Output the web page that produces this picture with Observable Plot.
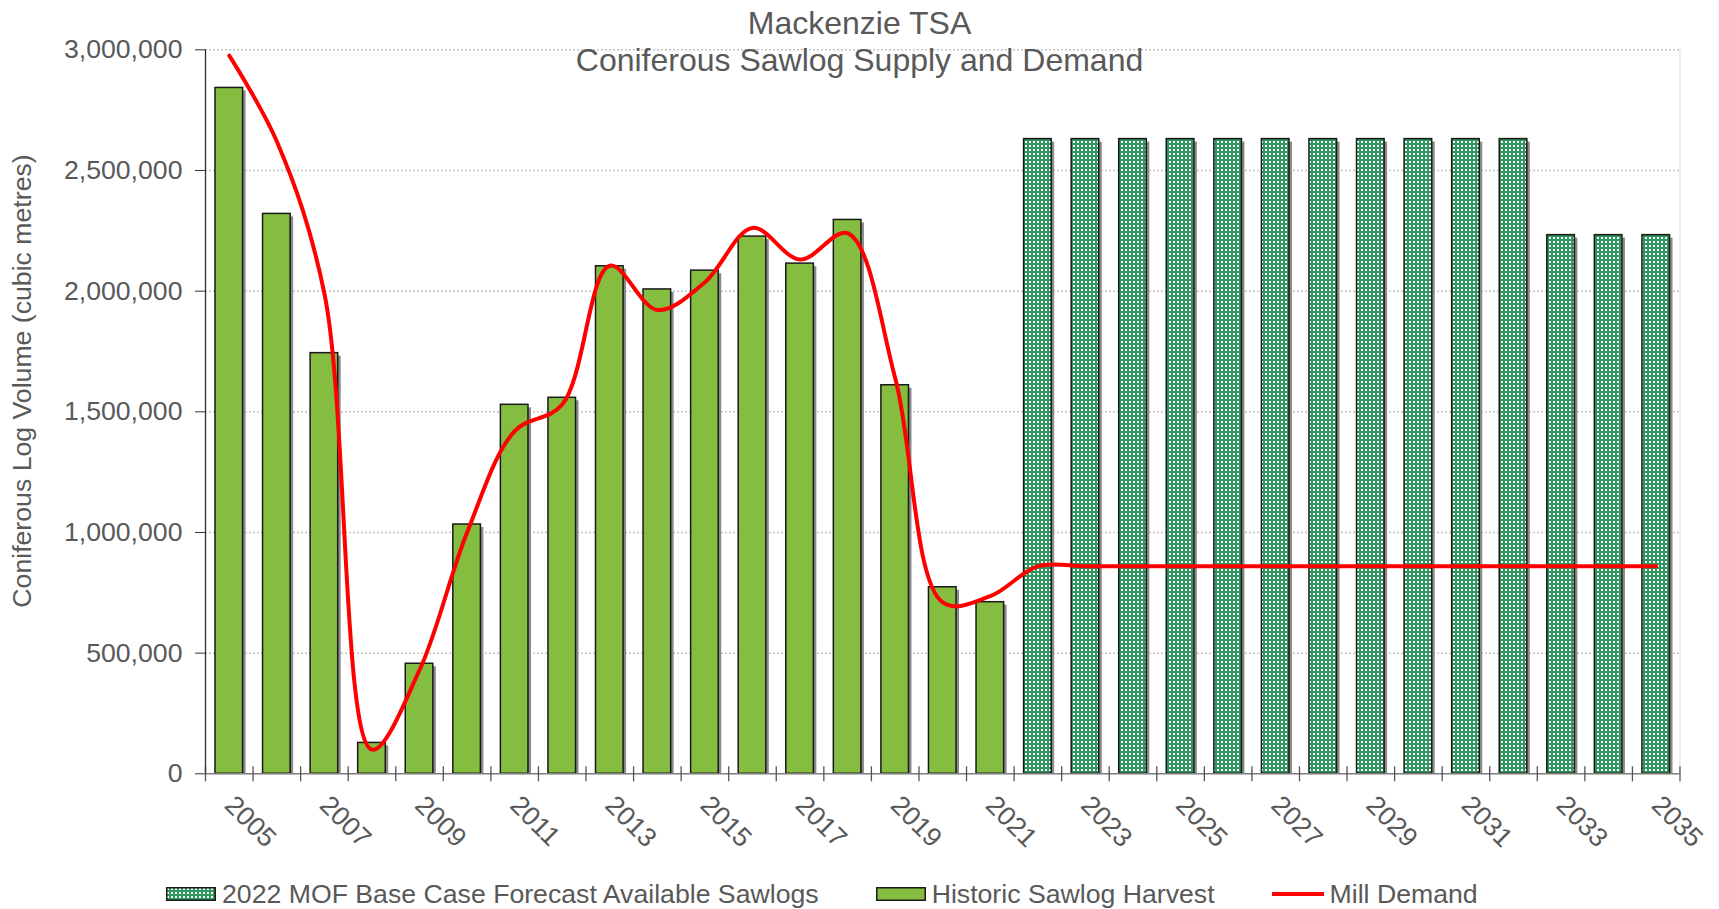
<!DOCTYPE html>
<html>
<head>
<meta charset="utf-8">
<script src="https://cdn.jsdelivr.net/npm/d3@7"></script>
<script src="https://cdn.jsdelivr.net/npm/@observablehq/plot@0.6"></script>
<style>
  body { margin: 0; background: #fff; font-family: "Liberation Sans", Arial, sans-serif; color: #595959; }
  #wrap { position: relative; width: 1719px; height: 909px; overflow: hidden; }
  #chart svg { display: block; }
  #title { position: absolute; left: 0; top: 5px; width: 1719px; text-align: center; font-size: 32px; line-height: 37px; }
  #ylabel { position: absolute; left: 22px; top: 381px; transform: translate(-50%, -50%) rotate(-90deg); font-size: 26.67px; white-space: nowrap; }
  #legend { position: absolute; left: 166px; top: 879px; display: flex; align-items: center; font-size: 26.67px; line-height: 30px; white-space: nowrap; }
  .item { display: flex; align-items: center; margin-right: 57px; }
  .item svg { margin-right: 6px; display: block; }
</style>
</head>
<body>
<svg width="0" height="0" style="position:absolute">
  <defs>
    <pattern id="dots" width="4" height="4" patternUnits="userSpaceOnUse">
      <rect width="4" height="4" fill="#30975f"></rect>
      <rect x="1" y="1" width="2" height="2" fill="#ffffff"></rect>
    </pattern>
  </defs>
</svg>
<div id="wrap">
  <div id="chart"></div>
  <div id="title">Mackenzie TSA<br>Coniferous Sawlog Supply and Demand</div>
  <div id="ylabel">Coniferous Log Volume (cubic metres)</div>
  <div id="legend">
    <div class="item"><svg width="50" height="14"><rect x="0.75" y="0.75" width="48.5" height="12.5" fill="url(#dots)" stroke="#1a1a1a" stroke-width="1.5"></rect></svg><span>2022 MOF Base Case Forecast Available Sawlogs</span></div>
    <div class="item"><svg width="50" height="14"><rect x="0.75" y="0.75" width="48.5" height="12.5" fill="#85bd41" stroke="#1a1a1a" stroke-width="1.5"></rect></svg><span>Historic Sawlog Harvest</span></div>
    <div class="item"><svg width="52" height="14"><line x1="0" x2="52" y1="7" y2="7" stroke="#ff0000" stroke-width="4"></line></svg><span>Mill Demand</span></div>
  </div>
</div>
<script>
const historicYears = [2005, 2006, 2007, 2008, 2009, 2010, 2011, 2012, 2013, 2014, 2015, 2016, 2017, 2018, 2019, 2020, 2021];
const historicHarvest = [2842000, 2320000, 1743000, 128000, 456000, 1033000, 1529000, 1558000, 2103000, 2007000, 2085000, 2226000, 2114000, 2295000, 1610000, 773000, 711000];

const forecastYears = [2022, 2023, 2024, 2025, 2026, 2027, 2028, 2029, 2030, 2031, 2032, 2033, 2034, 2035];
const forecastSupply = [2630000, 2630000, 2630000, 2630000, 2630000, 2630000, 2630000, 2630000, 2630000, 2630000, 2630000, 2232000, 2232000, 2232000];

const demandYears = [2005, 2006, 2007, 2008, 2009, 2010, 2011, 2012, 2013, 2014, 2015, 2016, 2017, 2018, 2019, 2020, 2021, 2022, 2023, 2024, 2025, 2026, 2027, 2028, 2029, 2030, 2031, 2032, 2033, 2034, 2035];
const millDemand = [2976000, 2620000, 1990000, 100000, 430000, 1000000, 1420000, 1530000, 2105000, 1922000, 2037000, 2262000, 2131000, 2240000, 1640000, 710000, 736000, 860000, 860000, 860000, 860000, 860000, 860000, 860000, 860000, 860000, 860000, 860000, 860000, 860000, 860000];

const yTicks = [0, 500000, 1000000, 1500000, 2000000, 2500000, 3000000];
const xTickLabels = ["2005", "2007", "2009", "2011", "2013", "2015", "2017", "2019", "2021", "2023", "2025", "2027", "2029", "2031", "2033", "2035"];

const hist = historicYears.map((year, i) => ({year, value: historicHarvest[i]}));
const fc = forecastYears.map((year, i) => ({year, value: forecastSupply[i]}));
const demand = demandYears.map((year, i) => ({year, value: millDemand[i]}));
const allBars = hist.concat(fc);
const boundaries = demandYears.map(y => y - 0.5).concat([demandYears[demandYears.length - 1] + 0.5]);
const xDomain = [boundaries[0], boundaries[boundaries.length - 1]];
const barHalf = 0.29;
const bx1 = d => d.year - barHalf;
const bx2 = d => d.year + barHalf;

const chart = Plot.plot({
  width: 1719,
  height: 909,
  marginTop: 49.3,
  marginBottom: 135.7,
  marginLeft: 205,
  marginRight: 39.5,
  style: {fontFamily: "'Liberation Sans', Arial, sans-serif", fontSize: "26.67px", color: "#595959", background: "transparent", overflow: "visible"},
  x: {domain: xDomain, axis: null},
  y: {domain: [0, 3000000], axis: null},
  marks: [
    Plot.ruleY(yTicks.filter(v => v > 0), {stroke: "#c4c4c4", strokeWidth: 1.5, strokeDasharray: "2,2"}),
    Plot.ruleX([xDomain[1]], {stroke: "#eeeeee", strokeWidth: 2}),
    Plot.rect(allBars, {x1: bx1, x2: bx2, y1: 0, y2: "value", fill: "#8a8a8a", dx: 3, insetTop: 3}),
    Plot.rect(hist, {x1: bx1, x2: bx2, y1: 0, y2: "value", fill: "#85bd41", stroke: "#1a1a1a", strokeWidth: 1.5}),
    Plot.rect(fc, {x1: bx1, x2: bx2, y1: 0, y2: "value", fill: "url(#dots)", stroke: "#1a1a1a", strokeWidth: 1.5}),
    Plot.ruleY([0], {stroke: "#7f7f7f", strokeWidth: 1.5}),
    Plot.ruleX(boundaries, {y1: 0, y2: 0, insetTop: -7, insetBottom: -8, stroke: "#555555", strokeWidth: 1.3}),
    Plot.ruleX([xDomain[0]], {stroke: "#333333", strokeWidth: 1.3}),
    Plot.axisY({ticks: yTicks, tickSize: 10, tickPadding: 13, tickFormat: d3.format(","), fill: "#595959", stroke: "#333333", fontSize: 26.67, label: null}),
    Plot.text(xTickLabels, {x: d => +d, text: d => d, frameAnchor: "bottom", dy: 27, rotate: 45, textAnchor: "start", lineAnchor: "middle", fill: "#595959", fontSize: 26.67}),
    Plot.line(demand, {x: "year", y: "value", curve: "catmull-rom", stroke: "#ff0000", strokeWidth: 4})
  ]
});
document.getElementById("chart").appendChild(chart);
</script>
</body>
</html>
